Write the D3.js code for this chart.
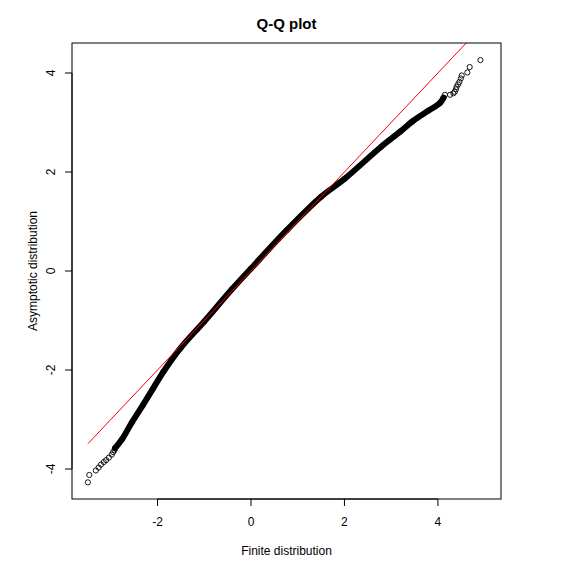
<!DOCTYPE html>
<html>
<head>
<meta charset="utf-8">
<script src="https://cdn.jsdelivr.net/npm/d3@7"></script>
<style>
  html, body { margin: 0; padding: 0; background: #fff; }
  svg { display: block; font-family: "Liberation Sans", Arial, Helvetica, sans-serif; }
</style>
</head>
<body>
<svg id="chart" width="573" height="572"></svg>
<script>
// ---- Data ----
const title = "Q-Q plot";
const xLabel = "Finite distribution";
const yLabel = "Asymptotic distribution";
const xTicks = [-2, 0, 2, 4];
const yTicks = [-4, -2, 0, 2, 4];

// sparse lower tail (finite, asymptotic)
const lowTailX = [-3.49, -3.46, -3.32, -3.26, -3.21, -3.15, -3.10, -3.04, -2.98, -2.95, -2.92];
const lowTailY = [-4.27, -4.12, -4.03, -3.97, -3.91, -3.86, -3.82, -3.77, -3.71, -3.66, -3.62];

// dense middle body of the sample (estimated centre of the band of points)
const bandX = [-2.91, -2.76, -2.55, -2.32, -2.10, -1.87, -1.5, -1.0, -0.4, 0.0, 0.77, 1.5, 2.0, 2.78, 3.2, 3.465, 3.8, 4.04, 4.12];
const bandY = [-3.58, -3.40, -3.06, -2.72, -2.38, -2.03, -1.55, -1.02, -0.36, 0.05, 0.83, 1.5, 1.86, 2.505, 2.82, 3.03, 3.24, 3.39, 3.50];

// sparse upper tail
const highTailX = [4.15, 4.26, 4.33, 4.36, 4.385, 4.40, 4.43, 4.46, 4.49, 4.51, 4.63, 4.68, 4.91];
const highTailY = [3.56, 3.56, 3.59, 3.62, 3.67, 3.72, 3.77, 3.82, 3.89, 3.95, 4.01, 4.12, 4.26];

// reference line y = x over the sample range
const refLine = [-3.49, 5.0];

// ---- Layout ----
const svg = d3.select("#chart");
const pL = 72, pR = 501, pT = 43, pB = 499;
const x = d3.scaleLinear().domain([-3.83, 5.35]).range([pL, pR]);
const y = d3.scaleLinear().domain([-4.606, 4.606]).range([pB, pT]);

svg.append("defs").append("clipPath").attr("id", "plotclip")
  .append("rect").attr("x", pL).attr("y", pT).attr("width", pR - pL).attr("height", pB - pT);

const g = svg.append("g").attr("clip-path", "url(#plotclip)");

const toPts = (xs, ys) => xs.map((v, i) => [v, ys[i]]);
const low = toPts(lowTailX, lowTailY);
const band = toPts(bandX, bandY);
const high = toPts(highTailX, highTailY);

// dense band of overlapping points
const line = d3.line().x(d => x(d[0])).y(d => y(d[1])).curve(d3.curveCatmullRom);
g.append("path").datum(band)
  .attr("d", line)
  .attr("fill", "none")
  .attr("stroke", "#000")
  .attr("stroke-width", 6)
  .attr("stroke-linecap", "round")
  .attr("stroke-linejoin", "round");

// individual points
g.selectAll("circle.pt").data(low.concat(band, high)).enter()
  .append("circle").attr("class", "pt")
  .attr("cx", d => x(d[0])).attr("cy", d => y(d[1]))
  .attr("r", 2.6)
  .attr("fill", "none")
  .attr("stroke", "#000")
  .attr("stroke-width", 0.9);

// reference line
g.append("line")
  .attr("x1", x(refLine[0])).attr("y1", y(refLine[0]))
  .attr("x2", x(refLine[1])).attr("y2", y(refLine[1]))
  .attr("stroke", "#ff0000").attr("stroke-width", 1);

// box
svg.append("rect").attr("x", pL).attr("y", pT).attr("width", pR - pL).attr("height", pB - pT)
  .attr("fill", "none").attr("stroke", "#000").attr("stroke-width", 1);

// x axis
const xa = svg.append("g");
xa.append("line").attr("x1", x(xTicks[0])).attr("x2", x(xTicks[xTicks.length - 1]))
  .attr("y1", pB).attr("y2", pB).attr("stroke", "#000");
xTicks.forEach(t => {
  xa.append("line").attr("x1", x(t)).attr("x2", x(t)).attr("y1", pB).attr("y2", pB + 7).attr("stroke", "#000");
  xa.append("text").attr("x", x(t)).attr("y", 526).attr("text-anchor", "middle")
    .attr("font-size", 12).attr("fill", "#000").text(t);
});

// y axis
const ya = svg.append("g");
ya.append("line").attr("y1", y(yTicks[0])).attr("y2", y(yTicks[yTicks.length - 1]))
  .attr("x1", pL).attr("x2", pL).attr("stroke", "#000");
yTicks.forEach(t => {
  ya.append("line").attr("y1", y(t)).attr("y2", y(t)).attr("x1", pL).attr("x2", pL - 7).attr("stroke", "#000");
  ya.append("text").attr("transform", `translate(54.5,${y(t)}) rotate(-90)`)
    .attr("text-anchor", "middle").attr("font-size", 12).attr("fill", "#000").text(t);
});

// titles
svg.append("text").attr("x", (pL + pR) / 2).attr("y", 28.5).attr("text-anchor", "middle")
  .attr("font-size", 15).attr("font-weight", "bold").attr("fill", "#000").text(title);
svg.append("text").attr("x", (pL + pR) / 2).attr("y", 555).attr("text-anchor", "middle")
  .attr("font-size", 12).attr("fill", "#000").text(xLabel);
svg.append("text").attr("transform", `translate(37,${(pT + pB) / 2}) rotate(-90)`)
  .attr("text-anchor", "middle").attr("font-size", 12).attr("fill", "#000").text(yLabel);
</script>
</body>
</html>
